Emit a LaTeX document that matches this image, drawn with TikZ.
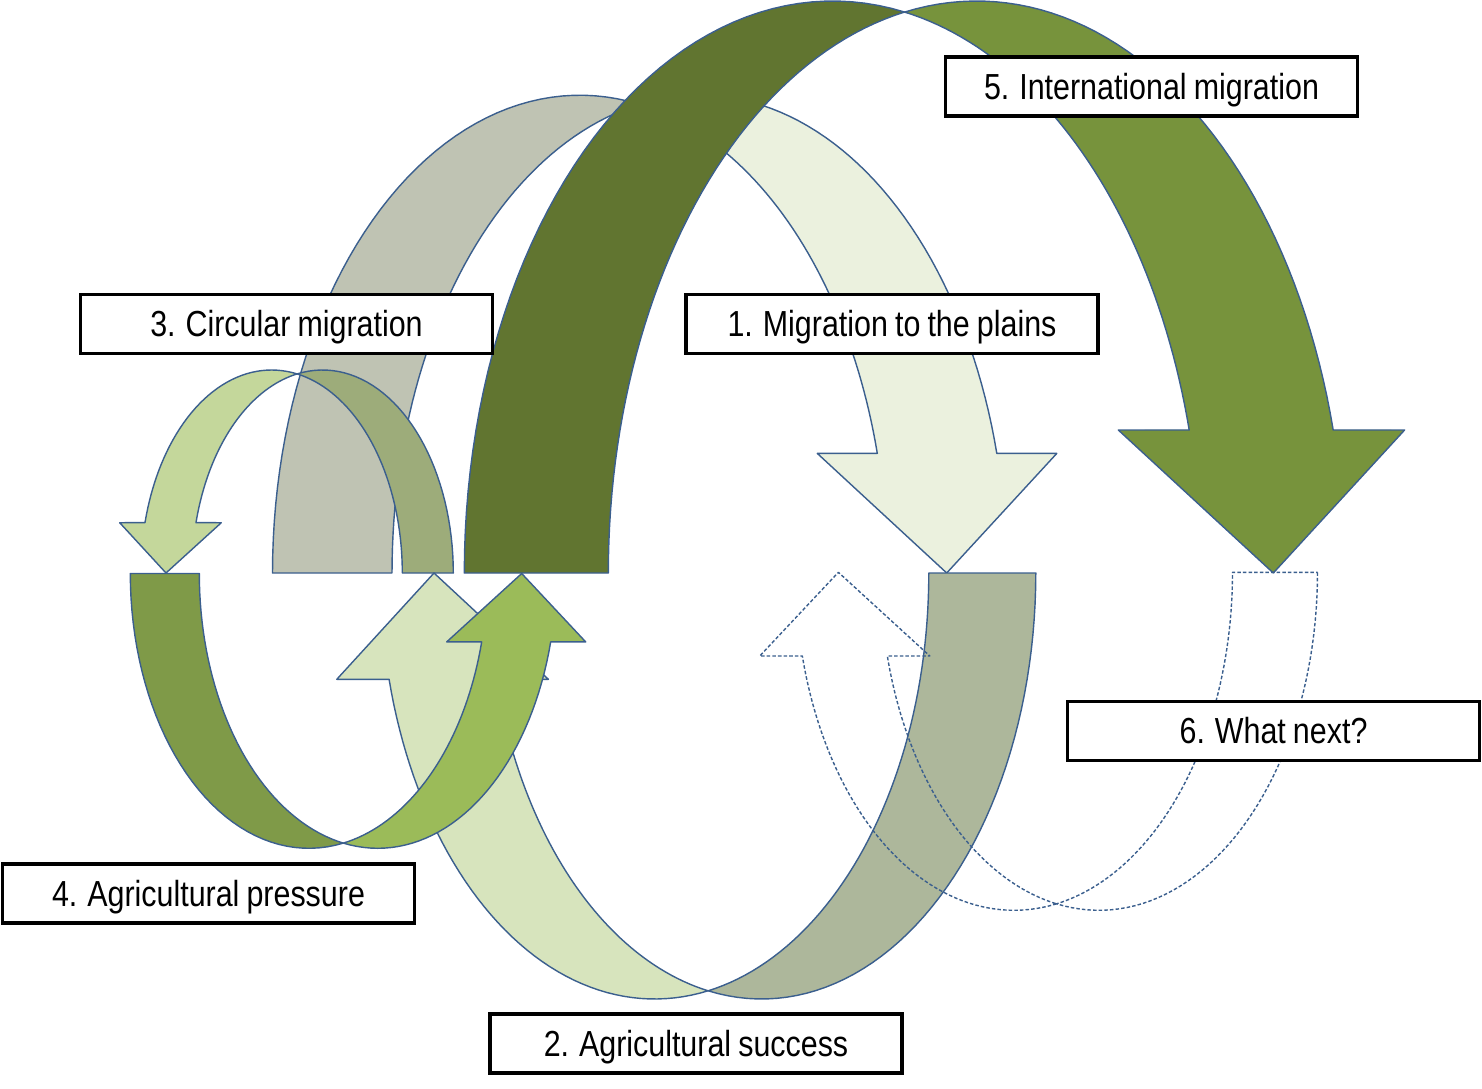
\documentclass[tikz,border=0pt]{standalone}
\usepackage{fontspec}
\setmainfont{Liberation Sans}[FakeStretch = 0.84, WordSpace = 0.84]

\definecolor{rim}{HTML}{3B5F8E}
\definecolor{plainsback}{HTML}{BFC3B3}
\definecolor{plainsfront}{HTML}{EBF1DE}
\definecolor{intlback}{HTML}{617530}
\definecolor{intlfront}{HTML}{77933C}
\definecolor{circback}{HTML}{9DAC7A}
\definecolor{circfront}{HTML}{C4D79B}
\definecolor{succback}{HTML}{ADB79B}
\definecolor{succfront}{HTML}{D7E4BD}
\definecolor{pressback}{HTML}{7F9A48}
\definecolor{pressfront}{HTML}{9BBB59}

\begin{document}
\begin{tikzpicture}[x = 0.01cm, y = -0.01cm,
	band/.style = {draw = rim, line width = 0.4pt, line join = round},
	ghost/.style = {band, dash pattern = on 1pt off 0.6pt},
	stage/.style = {draw = black, fill = white, line width = 1pt,
					minimum width = 4.115cm, minimum height = 0.59cm,
					inner sep = 0pt, text height = 0.716em, text depth = 0pt,
					font = \fontsize{10.3}{12}\selectfont}]
	\useasboundingbox (0, 0) rectangle (1482, 1088);

	% 1. migration to the plains
	\filldraw[band, fill = plainsback]
		plot[domain = 180:281.21, samples = 50] ({579.8 + 307.3*cos(\x)}, {573 + 477.8*sin(\x)})
		-- plot[domain = 258.79:180, samples = 50] ({699.3 + 307.3*cos(\x)}, {573 + 477.8*sin(\x)}) -- cycle;
	\filldraw[band, fill = plainsfront]
		plot[domain = 258.79:345.5, samples = 50] ({699.3 + 307.3*cos(\x)}, {573 + 477.8*sin(\x)})
		-- (1056.8, 453.4) -- (946.7, 573) -- (817.3, 453.4)
		-- plot[domain = 345.5:281.21, samples = 50] ({579.8 + 307.3*cos(\x)}, {573 + 477.8*sin(\x)}) -- cycle;

	% 5. international migration
	\filldraw[band, fill = intlback]
		plot[domain = 180:281.27, samples = 50] ({832.6 + 368.3*cos(\x)}, {573 + 572*sin(\x)})
		-- plot[domain = 258.73:180, samples = 50] ({976.6 + 368.3*cos(\x)}, {573 + 572*sin(\x)}) -- cycle;
	\filldraw[band, fill = intlfront]
		plot[domain = 258.73:345.52, samples = 50] ({976.6 + 368.3*cos(\x)}, {573 + 572*sin(\x)})
		-- (1404.6, 430) -- (1273.3, 573) -- (1118.3, 430)
		-- plot[domain = 345.52:281.27, samples = 50] ({832.6 + 368.3*cos(\x)}, {573 + 572*sin(\x)}) -- cycle;

	% 3. circular migration
	\filldraw[band, fill = circback]
		plot[domain = 360:258.75, samples = 40] ({322.6 + 130.7*cos(\x)}, {573 + 203*sin(\x)})
		-- plot[domain = 281.25:360, samples = 40] ({271.6 + 130.7*cos(\x)}, {573 + 203*sin(\x)}) -- cycle;
	\filldraw[band, fill = circfront]
		plot[domain = 281.25:194.35, samples = 40] ({271.6 + 130.7*cos(\x)}, {573 + 203*sin(\x)})
		-- (119.7, 522.7) -- (166, 573) -- (221.3, 522.7)
		-- plot[domain = 194.35:258.75, samples = 40] ({322.6 + 130.7*cos(\x)}, {573 + 203*sin(\x)}) -- cycle;

	% 2. agricultural success
	\filldraw[band, fill = succback]
		plot[domain = 0:101.25, samples = 50] ({761.6 + 274.2*cos(\x)}, {573 + 426*sin(\x)})
		-- plot[domain = 78.75:0, samples = 50] ({654.6 + 274.2*cos(\x)}, {573 + 426*sin(\x)}) -- cycle;
	\filldraw[band, fill = succfront]
		plot[domain = 78.75:165.55, samples = 50] ({654.6 + 274.2*cos(\x)}, {573 + 426*sin(\x)})
		-- (336.8, 679.3) -- (434, 573) -- (548.4, 679.3)
		-- plot[domain = 165.55:101.25, samples = 50] ({761.6 + 274.2*cos(\x)}, {573 + 426*sin(\x)}) -- cycle;

	% 4. agricultural pressure
	\filldraw[band, fill = pressback]
		plot[domain = 180:78.86, samples = 40] ({308.8 + 178.5*cos(\x)}, {573.5 + 274.8*sin(\x)})
		-- plot[domain = 101.14:180, samples = 40] ({377.8 + 178.5*cos(\x)}, {573.5 + 274.8*sin(\x)}) -- cycle;
	\filldraw[band, fill = pressfront]
		plot[domain = 101.14:14.42, samples = 40] ({377.8 + 178.5*cos(\x)}, {573.5 + 274.8*sin(\x)})
		-- (585.7, 641.9) -- (521.7, 573.5) -- (446.7, 641.9)
		-- plot[domain = 14.42:78.86, samples = 40] ({308.8 + 178.5*cos(\x)}, {573.5 + 274.8*sin(\x)}) -- cycle;

	% 6. what next (outline only)
	\draw[ghost]
		plot[domain = 0:101.22, samples = 50] ({1099 + 218.5*cos(\x)}, {572.3 + 338*sin(\x)})
		-- plot[domain = 78.78:0, samples = 50] ({1014 + 218.5*cos(\x)}, {572.3 + 338*sin(\x)}) -- cycle;
	\draw[ghost]
		plot[domain = 78.78:165.66, samples = 50] ({1014 + 218.5*cos(\x)}, {572.3 + 338*sin(\x)})
		-- (759.8, 656) -- (838.4, 572.3) -- (929.8, 656)
		-- plot[domain = 165.66:101.22, samples = 50] ({1099 + 218.5*cos(\x)}, {572.3 + 338*sin(\x)}) -- cycle;

	% labels
	\draw (892, 324) node[stage](plains){1. Migration to the plains};
	\draw (696, 1043.5) node[stage](success){2. Agricultural success};
	\draw (286.5, 324) node[stage](circular){3. Circular migration};
	\draw (208.5, 893.5) node[stage](pressure){4. Agricultural pressure};
	\draw (1151.5, 86.5) node[stage](international){5. International migration};
	\draw (1273.5, 731) node[stage](next){6. What next?};
\end{tikzpicture}
\end{document}
